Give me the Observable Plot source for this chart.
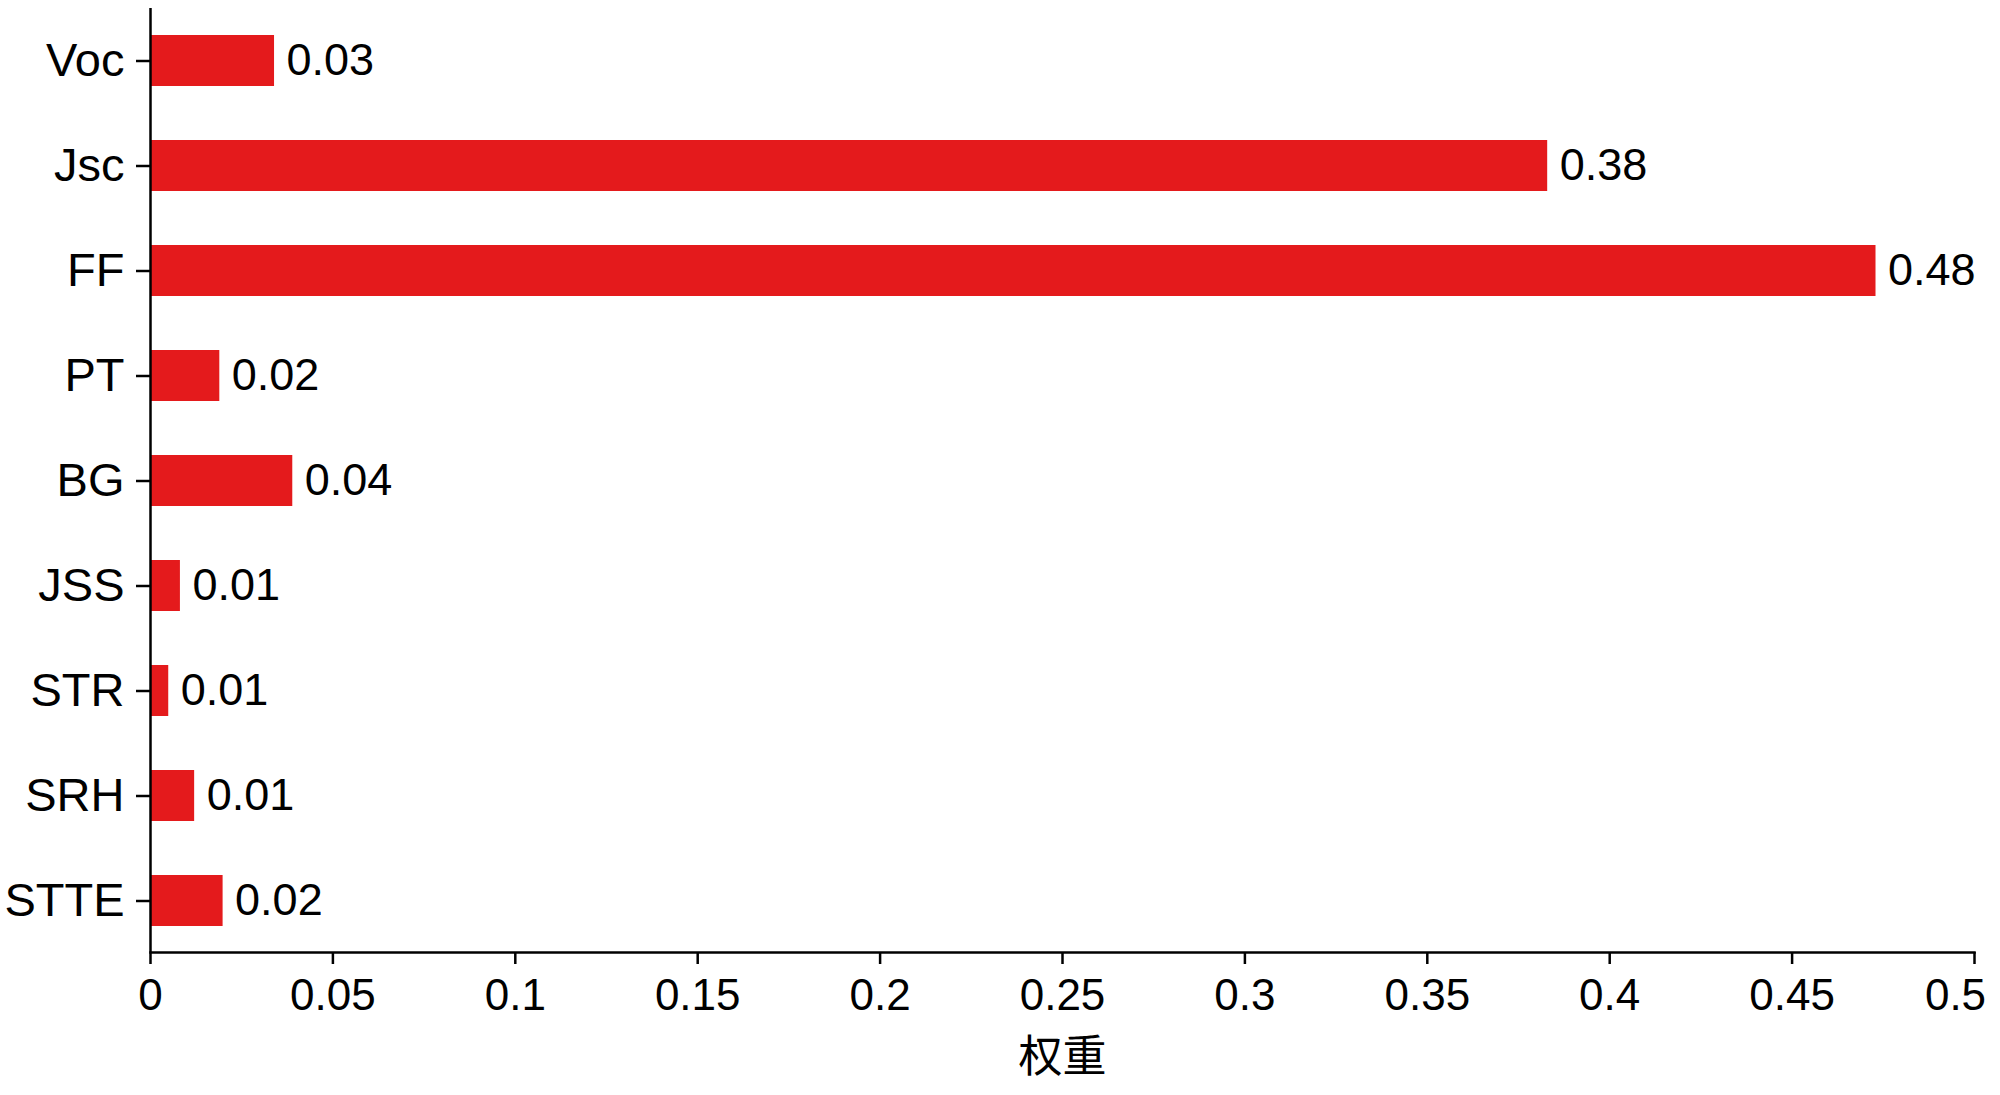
<!DOCTYPE html>
<html>
<head>
<meta charset="utf-8">
<script src="https://cdn.jsdelivr.net/npm/d3@7"></script>
<script src="https://cdn.jsdelivr.net/npm/@observablehq/plot@0.6"></script>
<style>
  html, body { margin: 0; padding: 0; background: #fff; }
  #chart svg { display: block; }
</style>
</head>
<body>
<div id="chart"></div>
<script>
const categories = ["Voc", "Jsc", "FF", "PT", "BG", "JSS", "STR", "SRH", "STTE"];
const weights = [0.034, 0.383, 0.473, 0.019, 0.039, 0.0082, 0.005, 0.0121, 0.0199];
const valueLabels = ["0.03", "0.38", "0.48", "0.02", "0.04", "0.01", "0.01", "0.01", "0.02"];
const xTicks = [0, 0.05, 0.1, 0.15, 0.2, 0.25, 0.3, 0.35, 0.4, 0.45, 0.5];
const xTickLabels = ["0", "0.05", "0.1", "0.15", "0.2", "0.25", "0.3", "0.35", "0.4", "0.45", "0.5"];
const xTitle = "权重";

const data = categories.map((c, i) => ({name: c, value: weights[i], label: valueLabels[i]}));
const fmt = d => xTickLabels[xTicks.indexOf(d)];
const lastTick = xTicks[xTicks.length - 1];

const chart = Plot.plot({
  width: 2000,
  height: 1095,
  marginLeft: 150,
  marginRight: 26,
  marginTop: 8,
  marginBottom: 143,
  style: {fontFamily: "'Liberation Sans', Arial, sans-serif", background: "#fff", color: "#000"},
  x: {domain: [0, 0.5]},
  y: {domain: categories, paddingInner: 0.515, paddingOuter: 0.25},
  marks: [
    Plot.barX(data, {x: "value", y: "name", fill: "#e41a1c"}),
    Plot.text(data, {x: "value", y: "name", text: "label", textAnchor: "start", dx: 12, fontSize: 45, fill: "#000"}),
    Plot.axisX({
      ticks: xTicks,
      tickFormat: d => d === lastTick ? "" : fmt(d),
      tickSize: 12,
      tickPadding: 14,
      fontSize: 44,
      strokeWidth: 2.5,
      label: null
    }),
    Plot.axisX({
      ticks: [lastTick],
      tickFormat: fmt,
      tickSize: 0,
      tickPadding: 26,
      dx: -19,
      fontSize: 44,
      label: null
    }),
    Plot.axisY({
      tickSize: 14,
      tickPadding: 12,
      fontSize: 47,
      strokeWidth: 2.5,
      label: null
    }),
    Plot.ruleX([0], {stroke: "#000", strokeWidth: 2.5}),
    Plot.frame({anchor: "bottom", stroke: "#000", strokeWidth: 2.5}),
    Plot.text([xTitle], {frameAnchor: "bottom", lineAnchor: "middle", dy: 105, fontSize: 44, fontFamily: "'Noto Sans CJK SC', sans-serif", fill: "#000"})
  ]
});

document.getElementById("chart").appendChild(chart);
</script>
</body>
</html>
